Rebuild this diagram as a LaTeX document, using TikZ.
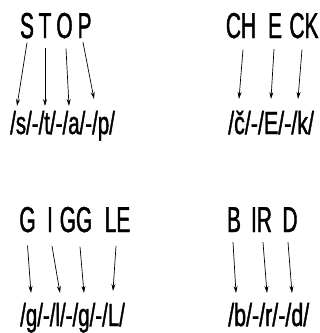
\documentclass[tikz,border=0pt]{standalone}
\usepackage{fontspec}
\setmainfont{Liberation Sans}[FakeStretch=0.58,FakeBold=1.2]
\newfontfamily\phon{Liberation Sans}[FakeStretch=0.64,FakeBold=1.2]
\newfontfamily\phonw{Liberation Sans}[FakeStretch=0.67,FakeBold=1.2]
\usetikzlibrary{arrows.meta}
\tikzset{
  word/.style={inner sep=0pt, anchor=base, font=\fontsize{36}{38}\selectfont},
  ph/.style={inner sep=0pt, anchor=base west, font=\phon\fontsize{32}{35}\selectfont},
  phw/.style={ph, font=\phonw\fontsize{32}{35}\selectfont},
  arr/.style={-{Stealth[length=7pt,width=4pt]}, line width=0.7pt}
}
\begin{document}
\begin{tikzpicture}[x=1pt,y=-1pt]
\useasboundingbox (0,0) rectangle (320,333);
% words
\node[word] (S) at (27,38) {S};
\node[word] (T) at (45,38) {T};
\node[word] (O) at (64.5,38) {O};
\node[word] (P) at (84.5,38) {P};
\node[word] (CH) at (241,38) {CH};
\node[word] (E) at (275,38) {E};
\node[word] (CK) at (304,38) {CK};
\node[word] (G1) at (27.5,232) {G};
\node[word] (I) at (50,232) {I};
\node[word] (GG) at (76,232) {GG};
\node[word] (LE) at (117.5,232) {LE};
\node[word] (B) at (234,232) {B};
\node[word] (IR) at (261.5,232) {IR};
\node[word] (D) at (290,232) {D};
% phonemes
\node[ph] (p1) at (10,134) {/s/-/t/-/a/-/p/};
\node[phw] (p2) at (228,134) {/č/-/E/-/k/};
\node[ph] (p3) at (20,326) {/g/-/l/-/g/-/L/};
\node[phw] (p4) at (228,326) {/b/-/r/-/d/};
% arrow tips
\coordinate (aS) at (17,106);
\coordinate (aT) at (45,106);
\coordinate (aO) at (69,106);
\coordinate (aP) at (94,99);
\coordinate (aCH) at (239,99);
\coordinate (aE) at (271,99);
\coordinate (aCK) at (298,99);
\coordinate (aG1) at (31,293);
\coordinate (aI) at (60,293);
\coordinate (aGG) at (84,293);
\coordinate (aLE) at (113,291);
\coordinate (aB) at (236,293);
\coordinate (aIR) at (267,293);
\coordinate (aD) at (292,293);
% arrows
\draw[arr] ([yshift=-4pt]S.south) -- (aS);
\draw[arr] ([yshift=-10pt]T.south) -- (aT);
\draw[arr] ([xshift=1.5pt,yshift=-10pt]O.south) -- (aO);
\draw[arr] ([xshift=-1.5pt,yshift=-4pt]P.south) -- (aP);
\draw[arr] ([xshift=2pt,yshift=-11pt]CH.south) -- (aCH);
\draw[arr] ([xshift=-1pt,yshift=-11pt]E.south) -- (aE);
\draw[arr] ([xshift=-2pt,yshift=-11pt]CK.south) -- (aCK);
\draw[arr] ([yshift=-13pt]G1.south) -- (aG1);
\draw[arr] ([xshift=2pt,yshift=-14pt]I.south) -- (aI);
\draw[arr] ([xshift=4pt,yshift=-14pt]GG.south) -- (aGG);
\draw[arr] ([xshift=-1.5pt,yshift=-14pt]LE.south) -- (aLE);
\draw[arr] ([xshift=-1pt,yshift=-10pt]B.south) -- (aB);
\draw[arr] ([xshift=1.5pt,yshift=-10pt]IR.south) -- (aIR);
\draw[arr] ([xshift=-2pt,yshift=-10pt]D.south) -- (aD);
\end{tikzpicture}
\end{document}
